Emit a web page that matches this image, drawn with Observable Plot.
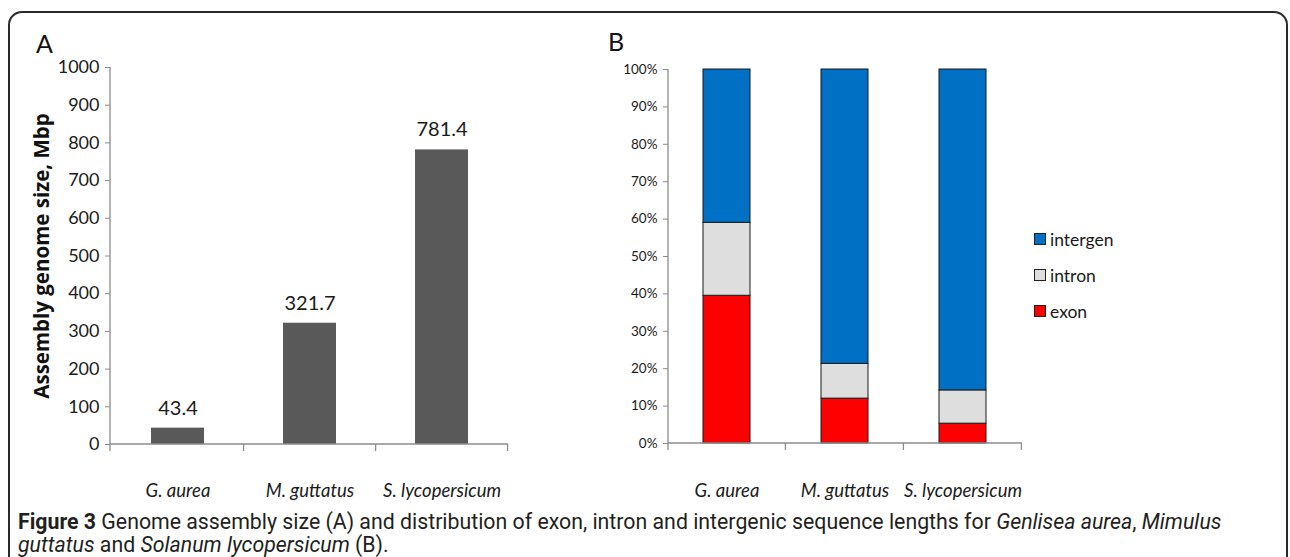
<!DOCTYPE html>
<html><head><meta charset="utf-8">
<script src="https://cdn.jsdelivr.net/npm/d3@7"></script>
<script src="https://cdn.jsdelivr.net/npm/@observablehq/plot@0.6"></script>
<style>
html,body{margin:0;padding:0;background:#fff;}
#root{position:relative;width:1290px;height:557px;overflow:hidden;font-family:Lato,"Open Sans",sans-serif;color:#1a1a1a;}
#frame{position:absolute;left:8px;top:11px;width:1280px;height:620px;border:2px solid #2b2b2b;border-radius:14px;box-sizing:border-box;}
.panel{position:absolute;top:0;}
#pa{left:0;}
#pb{left:560px;}
.plabel{position:absolute;font-size:25px;font-family:Lato,sans-serif;color:#111;}
#legend{position:absolute;left:1034px;top:221px;font-size:17.5px;font-family:Lato,sans-serif;}
#legend .item{display:flex;align-items:center;height:36px;}
#legend .sw{width:10px;height:10px;border:1px solid #222;margin-right:4px;}
#cap{position:absolute;left:18px;top:510px;font-family:Roboto,sans-serif;font-size:21.3px;line-height:23px;color:#231f20;white-space:nowrap;}
#cap b{font-weight:700;}
svg [aria-label="x-axis tick label"] text{font-style:italic;}
</style></head>
<body><div id="root">
<div id="frame"></div>
<div id="pa" class="panel"></div>
<div id="pb" class="panel"></div>
<div class="plabel" style="left:36px;top:28px;">A</div>
<div class="plabel" style="left:608px;top:26px;">B</div>
<div id="legend"></div>
<div id="cap"><b>Figure 3</b> Genome assembly size (A) and distribution of exon, intron and intergenic sequence lengths for <i>Genlisea aurea</i>, <i>Mimulus</i><br><i>guttatus</i> and <i>Solanum lycopersicum</i> (B).</div>
</div>
<script>
const species = ["G. aurea", "M. guttatus", "S. lycopersicum"];
const genomeSize = [43.4, 321.7, 781.4];
const sizeTicks = [0, 100, 200, 300, 400, 500, 600, 700, 800, 900, 1000];
const parts = ["exon", "intron", "intergen"];
const exonPct = [39.5, 12.0, 5.3];
const intronPct = [19.5, 9.3, 8.9];
const intergenPct = [41.0, 78.7, 85.8];
const pctTicks = [0, 10, 20, 30, 40, 50, 60, 70, 80, 90, 100];
const partColors = ["#ff0000", "#dedede", "#0070c4"];

const FONT = "Lato, 'Open Sans', sans-serif";
const AXIS_GRAY = "#8c8c8c";

function decorate(plot, ymax) {
  const sx = plot.scale("x"), sy = plot.scale("y");
  const svg = d3.select(plot);
  const x0 = sx.range[0], x1 = sx.range[1];
  const yb = sy.apply(0), yt = sy.apply(ymax);
  const g = svg.append("g").attr("stroke", AXIS_GRAY).attr("stroke-width", 1.3);
  g.append("line").attr("x1", x0).attr("x2", x0).attr("y1", yt).attr("y2", yb);
  g.append("line").attr("x1", x0).attr("x2", x1).attr("y1", yb).attr("y2", yb);
  const edges = [x0].concat(species.map(s => sx.apply(s) + sx.bandwidth + sx.step * 0.3));
  edges.forEach(e => g.append("line").attr("x1", e).attr("x2", e).attr("y1", yb).attr("y2", yb + 7));
  return plot;
}

// Panel A
const dataA = species.map((s, i) => ({species: s, size: genomeSize[i]}));
const plotA = Plot.plot({
  width: 560, height: 510,
  marginLeft: 110, marginRight: 52, marginTop: 67, marginBottom: 66,
  style: {fontFamily: FONT, overflow: "visible", color: "#1a1a1a"},
  x: {domain: species, paddingInner: 0.6, paddingOuter: 0.3, label: null},
  y: {domain: [0, 1000], label: null},
  marks: [
    Plot.axisY({ticks: sizeTicks, tickFormat: d => String(d), tickSize: 5, tickPadding: 6, stroke: AXIS_GRAY, fill: "#1a1a1a", fontSize: 18, label: null}),
    Plot.axisX({tickSize: 0, tickPadding: 39, fontSize: 18.5, fontStyle: "italic", fill: "#1a1a1a", label: null}),
    Plot.barY(dataA, {x: "species", y: "size", fill: "#595959"}),
    Plot.text(dataA, {x: "species", y: "size", text: d => d.size.toFixed(1), dy: -20, fontSize: 20, fill: "#1a1a1a"}),
    Plot.text(["Assembly genome size, Mbp"], {frameAnchor: "left", dx: -68, rotate: -90, textAnchor: "middle", text: d => d, fontSize: 20.5, fontFamily: "'Open Sans', Lato, sans-serif", fontWeight: "bold", fill: "#111"})
  ]
});
document.getElementById("pa").appendChild(decorate(plotA, 1000));

// Panel B
const rowsB = species.flatMap((s, i) => [
  {species: s, part: "exon", pct: exonPct[i]},
  {species: s, part: "intron", pct: intronPct[i]},
  {species: s, part: "intergen", pct: intergenPct[i]}
]);
const plotB = Plot.plot({
  width: 730, height: 510,
  marginLeft: 108, marginRight: 268, marginTop: 69, marginBottom: 67,
  style: {fontFamily: FONT, overflow: "visible", color: "#1a1a1a"},
  x: {domain: species, paddingInner: 0.6, paddingOuter: 0.3, label: null},
  y: {domain: [0, 100], label: null},
  color: {domain: parts, range: partColors},
  marks: [
    Plot.axisY({ticks: pctTicks, tickFormat: d => d + "%", tickSize: 5, tickPadding: 6, stroke: AXIS_GRAY, fill: "#1a1a1a", fontSize: 13.5, label: null}),
    Plot.axisX({tickSize: 0, tickPadding: 40, fontSize: 18.5, fontStyle: "italic", fill: "#1a1a1a", label: null}),
    Plot.barY(rowsB, {x: "species", y: "pct", fill: "part", order: parts, stroke: "#1a1a1a", strokeWidth: 1})
  ]
});
document.getElementById("pb").appendChild(decorate(plotB, 100));

// Legend (top to bottom: intergen, intron, exon)
const legend = d3.select("#legend");
parts.slice().reverse().forEach(p => {
  const it = legend.append("div").attr("class", "item");
  it.append("div").attr("class", "sw").style("background", partColors[parts.indexOf(p)]);
  it.append("span").text(p);
});
</script>
</body></html>
